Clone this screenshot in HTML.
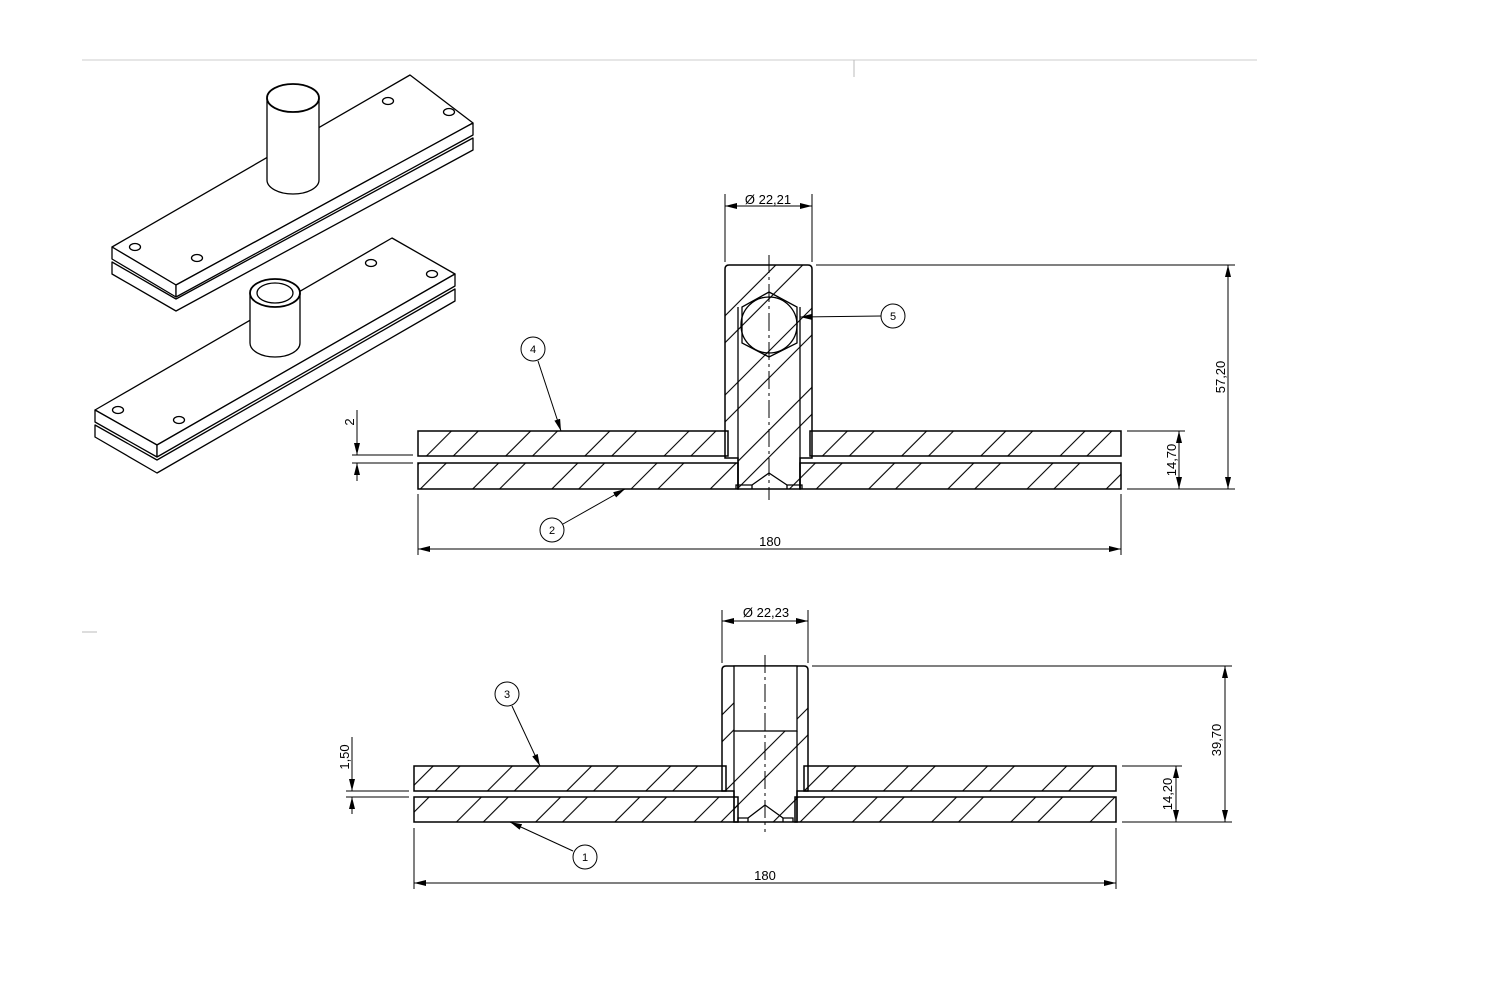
<!DOCTYPE html>
<html><head><meta charset="utf-8"><style>
html,body{margin:0;padding:0;background:#fff;}
svg{display:block;}
text{font-family:"Liberation Sans",sans-serif;font-size:13px;fill:#000;}
</style></head><body>
<svg width="1500" height="1000" viewBox="0 0 1500 1000" xmlns="http://www.w3.org/2000/svg">
<defs>
<pattern id="h" patternUnits="userSpaceOnUse" width="56" height="10" patternTransform="rotate(45)">
<line x1="8" y1="-1" x2="8" y2="11" stroke="#000" stroke-width="1.1"/>
<line x1="27" y1="-1" x2="27" y2="11" stroke="#000" stroke-width="1.1"/>
</pattern>
<marker id="a" viewBox="0 0 12 6" refX="12" refY="3" markerWidth="12" markerHeight="6" orient="auto-start-reverse" markerUnits="userSpaceOnUse">
<path d="M0,0 L12,3 L0,6 z" fill="#000"/></marker>
</defs>
<line x1="82" y1="60" x2="1257" y2="60" stroke="#ccc" stroke-width="1"/>
<line x1="854" y1="60" x2="854" y2="77" stroke="#bbb" stroke-width="1"/>
<line x1="82" y1="632" x2="97" y2="632" stroke="#bbb" stroke-width="1"/>

<g fill="#fff" stroke="#000" stroke-width="1.3" stroke-linejoin="round">
<polygon points="112,262 176,299 473,138 473,150 176,311 112,274"/>
<polygon points="112,247 410,75 473,123 176,285"/>
<polygon points="112,247 176,285 176,297 112,259"/>
<polygon points="176,285 473,123 473,135 176,297"/>
<ellipse cx="135" cy="247" rx="5.5" ry="3.5"/>
<ellipse cx="197" cy="258" rx="5.5" ry="3.5"/>
<ellipse cx="388" cy="101" rx="5.5" ry="3.5"/>
<ellipse cx="449" cy="112" rx="5.5" ry="3.5"/>
<path d="M267,98 L267,180 A26,14 0 0 0 319,180 L319,98"/>
<ellipse cx="293" cy="98" rx="26" ry="14" stroke-width="1.8"/>
</g>
<g fill="#fff" stroke="#000" stroke-width="1.3" stroke-linejoin="round">
<polygon points="95,425 157,460 455,289 455,301 157,473 95,437"/>
<polygon points="95,410 392,238 455,274 157,445"/>
<polygon points="95,410 157,445 157,457 95,422"/>
<polygon points="157,445 455,274 455,286 157,457"/>
<ellipse cx="118" cy="410" rx="5.5" ry="3.5"/>
<ellipse cx="179" cy="420" rx="5.5" ry="3.5"/>
<ellipse cx="371" cy="263" rx="5.5" ry="3.5"/>
<ellipse cx="432" cy="274" rx="5.5" ry="3.5"/>
<path d="M250,293 L250,343 A25,14 0 0 0 300,343 L300,293"/>
<ellipse cx="275" cy="293" rx="25" ry="14" stroke-width="1.8"/>
<ellipse cx="275" cy="293" rx="18" ry="10"/>
</g>

<g stroke="#000" stroke-width="1.5" fill="url(#h)">
<rect x="418" y="431" width="310" height="25"/>
<rect x="810" y="431" width="311" height="25"/>
<rect x="418" y="463" width="320" height="26"/>
<rect x="800" y="463" width="321" height="26"/>
<path d="M729,265 L808,265 Q812,265 812,269 L812,458 L800,458 L800,489 L738,489 L738,458 L725,458 L725,269 Q725,265 729,265 z"/>
</g>
<g stroke="#000" stroke-width="1.3" fill="none">
<line x1="738" y1="307" x2="738" y2="489"/>
<line x1="800" y1="307" x2="800" y2="489"/>
<polygon points="769,292 797,307 797,343 769,357 742,343 742,307"/>
<circle cx="769" cy="325" r="28"/>
<polyline points="736,489 736,485 752,485 769,473 787,485 802,485 802,489"/>
<line x1="752" y1="485" x2="752" y2="489"/><line x1="787" y1="485" x2="787" y2="489"/>
<line x1="769" y1="255" x2="769" y2="500" stroke-dasharray="18,4,3,4" stroke-width="1"/>
</g>
<g stroke="#000" stroke-width="1" fill="none">
<line x1="725" y1="194" x2="725" y2="262"/><line x1="812" y1="194" x2="812" y2="262"/>
<line x1="725" y1="206" x2="812" y2="206" marker-start="url(#a)" marker-end="url(#a)"/>
<line x1="816" y1="265" x2="1235" y2="265"/><line x1="1127" y1="489" x2="1235" y2="489"/>
<line x1="1228" y1="265" x2="1228" y2="489" marker-start="url(#a)" marker-end="url(#a)"/>
<line x1="1127" y1="431" x2="1185" y2="431"/>
<line x1="1179" y1="431" x2="1179" y2="489" marker-start="url(#a)" marker-end="url(#a)"/>
<line x1="352" y1="455" x2="413" y2="455"/><line x1="352" y1="463" x2="413" y2="463"/>
<line x1="357" y1="410" x2="357" y2="455" marker-end="url(#a)"/>
<line x1="357" y1="481" x2="357" y2="463" marker-end="url(#a)"/>
<line x1="418" y1="494" x2="418" y2="555"/><line x1="1121" y1="494" x2="1121" y2="555"/>
<line x1="418" y1="549" x2="1121" y2="549" marker-start="url(#a)" marker-end="url(#a)"/>
<line x1="538" y1="361" x2="561" y2="431" marker-end="url(#a)"/>
<line x1="563" y1="524" x2="625" y2="489" marker-end="url(#a)"/>
<line x1="881" y1="316" x2="800" y2="317" marker-end="url(#a)"/>
<circle cx="533" cy="349" r="12"/><circle cx="552" cy="530" r="12"/><circle cx="893" cy="316" r="12"/>
</g>
<text x="768" y="204" text-anchor="middle">Ø 22,21</text>
<text x="0" y="0" text-anchor="middle" transform="translate(1225,377) rotate(-90)">57,20</text>
<text x="0" y="0" text-anchor="middle" transform="translate(1176,460) rotate(-90)">14,70</text>
<text x="0" y="0" text-anchor="middle" transform="translate(354,422) rotate(-90)">2</text>
<text x="770" y="546" text-anchor="middle">180</text>
<text x="533" y="353" text-anchor="middle" style="font-size:11px">4</text>
<text x="552" y="534" text-anchor="middle" style="font-size:11px">2</text>
<text x="893" y="320" text-anchor="middle" style="font-size:11px">5</text>

<g stroke="#000" stroke-width="1.5" fill="url(#h)">
<rect x="414" y="766" width="312" height="25"/>
<rect x="804" y="766" width="312" height="25"/>
<rect x="414" y="797" width="324" height="25"/>
<rect x="795" y="797" width="321" height="25"/>
<path d="M726,666 L804,666 Q808,666 808,670 L808,791 L797,791 L797,822 L734,822 L734,791 L722,791 L722,670 Q722,666 726,666 z"/>
</g>
<g stroke="#000" stroke-width="1.3" fill="#fff">
<rect x="734" y="666" width="63" height="65"/>
</g>
<g stroke="#000" stroke-width="1.3" fill="none">
<line x1="734" y1="731" x2="734" y2="822"/><line x1="797" y1="731" x2="797" y2="822"/>
<polyline points="738,822 738,818 748,818 765,805 783,818 793,818 793,822"/>
<line x1="748" y1="818" x2="748" y2="822"/><line x1="783" y1="818" x2="783" y2="822"/>
<line x1="765" y1="655" x2="765" y2="832" stroke-dasharray="18,4,3,4" stroke-width="1"/>
</g>
<g stroke="#000" stroke-width="1" fill="none">
<line x1="722" y1="610" x2="722" y2="663"/><line x1="808" y1="610" x2="808" y2="663"/>
<line x1="722" y1="621" x2="808" y2="621" marker-start="url(#a)" marker-end="url(#a)"/>
<line x1="812" y1="666" x2="1232" y2="666"/><line x1="1122" y1="822" x2="1232" y2="822"/>
<line x1="1225" y1="666" x2="1225" y2="822" marker-start="url(#a)" marker-end="url(#a)"/>
<line x1="1122" y1="766" x2="1182" y2="766"/>
<line x1="1176" y1="766" x2="1176" y2="822" marker-start="url(#a)" marker-end="url(#a)"/>
<line x1="346" y1="791" x2="409" y2="791"/><line x1="346" y1="797" x2="409" y2="797"/>
<line x1="352" y1="737" x2="352" y2="791" marker-end="url(#a)"/>
<line x1="352" y1="814" x2="352" y2="797" marker-end="url(#a)"/>
<line x1="414" y1="828" x2="414" y2="889"/><line x1="1116" y1="828" x2="1116" y2="889"/>
<line x1="414" y1="883" x2="1116" y2="883" marker-start="url(#a)" marker-end="url(#a)"/>
<line x1="512" y1="706" x2="540" y2="766" marker-end="url(#a)"/>
<line x1="573" y1="851" x2="510" y2="822" marker-end="url(#a)"/>
<circle cx="507" cy="694" r="12"/><circle cx="585" cy="857" r="12"/>
</g>
<text x="766" y="617" text-anchor="middle">Ø 22,23</text>
<text x="0" y="0" text-anchor="middle" transform="translate(1221,740) rotate(-90)">39,70</text>
<text x="0" y="0" text-anchor="middle" transform="translate(1172,794) rotate(-90)">14,20</text>
<text x="0" y="0" text-anchor="middle" transform="translate(349,757) rotate(-90)">1,50</text>
<text x="765" y="880" text-anchor="middle">180</text>
<text x="507" y="698" text-anchor="middle" style="font-size:11px">3</text>
<text x="585" y="861" text-anchor="middle" style="font-size:11px">1</text>
</svg>
</body></html>
